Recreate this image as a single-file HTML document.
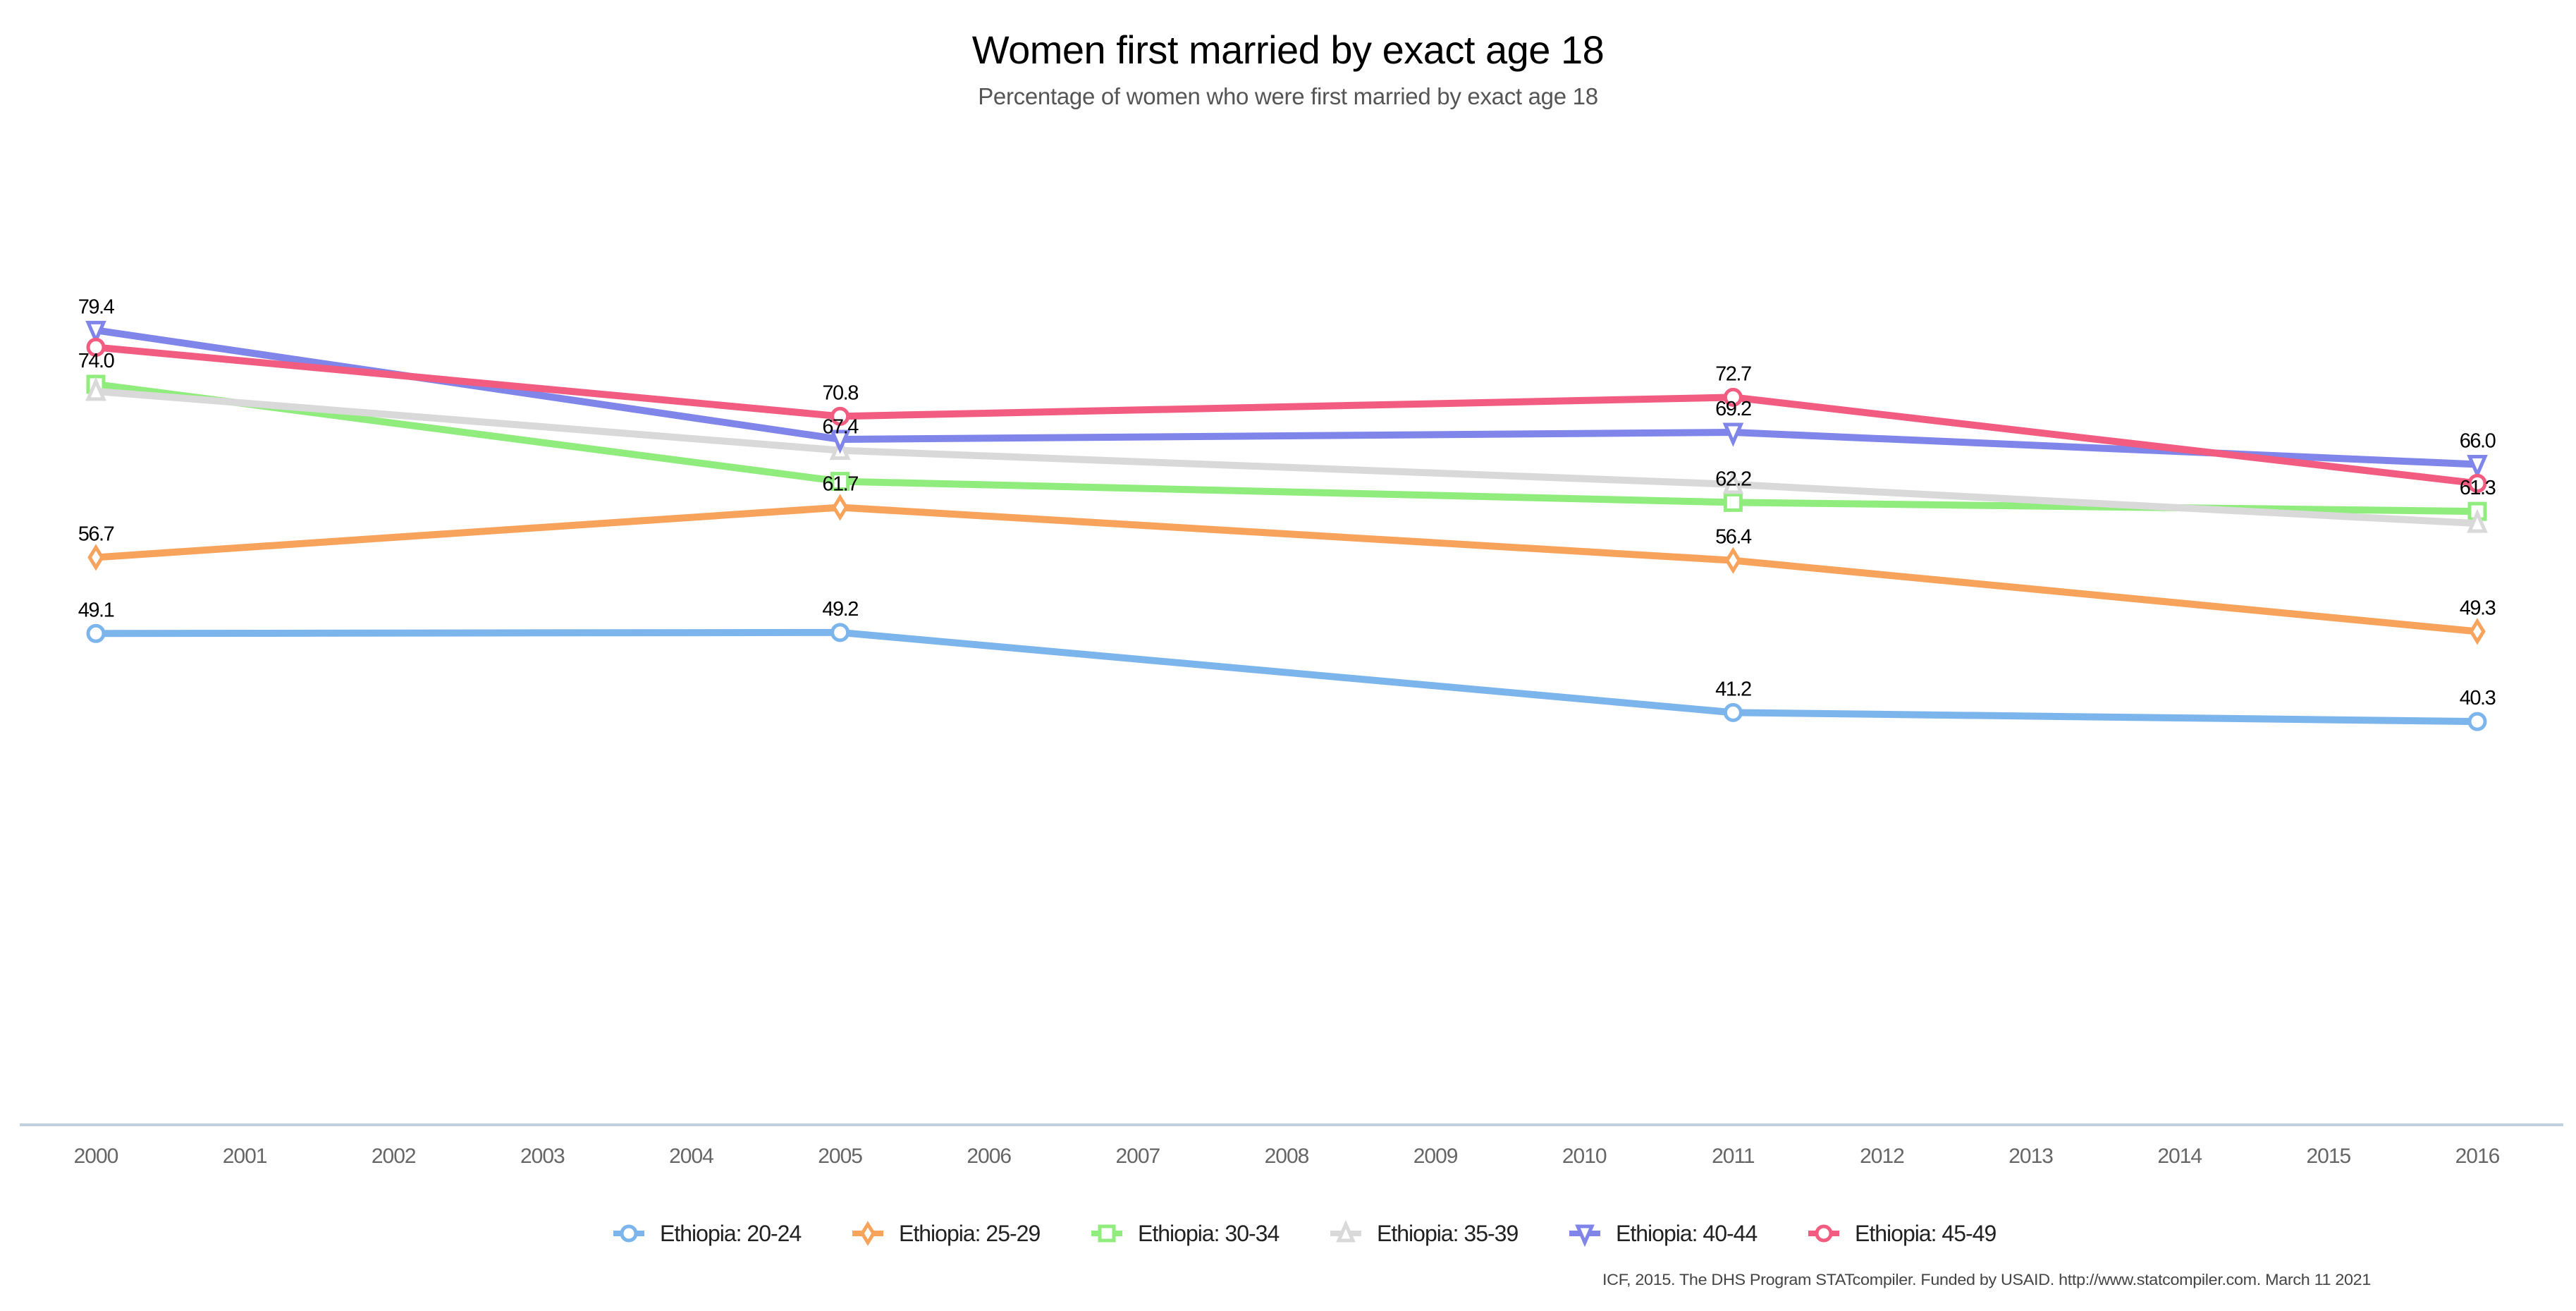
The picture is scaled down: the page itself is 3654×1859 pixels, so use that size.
<!DOCTYPE html>
<html><head><meta charset="utf-8">
<style>
html,body{margin:0;padding:0;background:#fff;}
svg{display:block;font-family:"Liberation Sans",sans-serif;}
</style></head>
<body>
<svg id="chart" width="3654" height="1859" viewBox="0 0 3654 1859" xmlns="http://www.w3.org/2000/svg">
<text x="1827" y="90" text-anchor="middle" font-size="56" fill="#000" letter-spacing="-0.5">Women first married by exact age 18</text>
<text x="1827" y="148" text-anchor="middle" font-size="33" fill="#555" letter-spacing="-0.3">Percentage of women who were first married by exact age 18</text>
<line x1="28" y1="1595" x2="3636" y2="1595" stroke="#c0d0e0" stroke-width="4"/>
<g id="ticks"></g>
<g id="series"></g>
<g id="labels"></g>
<g id="legend"></g>
<text x="3363" y="1822" text-anchor="end" font-size="22" fill="#444" letter-spacing="-0.3" textLength="1090" lengthAdjust="spacingAndGlyphs">ICF, 2015. The DHS Program STATcompiler. Funded by USAID. http://www.statcompiler.com. March 11 2021</text>
</svg>
<script>
const years = [2000,2005,2011,2016];
const tickYears = [2000,2001,2002,2003,2004,2005,2006,2007,2008,2009,2010,2011,2012,2013,2014,2015,2016];
const seriesNames = ["Ethiopia: 20-24","Ethiopia: 25-29","Ethiopia: 30-34","Ethiopia: 35-39","Ethiopia: 40-44","Ethiopia: 45-49"];
const v2024 = [49.1,49.2,41.2,40.3];
const v2529 = [56.7,61.7,56.4,49.3];
const v3034 = [74.0,64.3,62.2,61.3];
const v3539 = [73.3,67.4,64.0,60.1];
const v4044 = [79.4,68.5,69.2,66.0];
const v4549 = [77.7,70.8,72.7,64.1];
const values = [v2024,v2529,v3034,v3539,v4044,v4549];
// which printed value labels are visible
const shownLabels = [[1,1,1,1],[1,1,1,1],[1,0,1,1],[0,1,0,0],[1,0,1,1],[0,1,1,0]];
const colors = ["#7cb5ec","#f7a35c","#90ed7d","#d9d9d9","#8085e9","#f15c80"];
const markers = ["circle","diamond","square","triangle","triangle-down","circle"];

const NS="http://www.w3.org/2000/svg";
function xS(y){return 136+(y-2000)*(3514-136)/16;}
function yS(v){return 1595-v*14.19;}
function mk(tag,attrs,parent){const e=document.createElementNS(NS,tag);for(const k in attrs)e.setAttribute(k,attrs[k]);parent.appendChild(e);return e;}

const ticks=document.getElementById('ticks');
tickYears.forEach(t=>{
  const e=mk('text',{x:xS(t),y:1649,'text-anchor':'middle','font-size':30,fill:'#666','letter-spacing':'-1'},ticks);
  
  
  e.textContent=t;
});

function marker(type,cx,cy,color,parent,s){
  let e;
  if(type==='circle') e=mk('circle',{cx:cx,cy:cy,r:s},parent);
  else if(type==='square') e=mk('rect',{x:cx-s,y:cy-s,width:2*s,height:2*s},parent);
  else if(type==='diamond') e=mk('path',{d:`M${cx},${cy-s*1.3}L${cx+s*0.8},${cy}L${cx},${cy+s*1.3}L${cx-s*0.8},${cy}Z`},parent);
  else if(type==='triangle') e=mk('path',{d:`M${cx},${cy-s*1.3}L${cx+s},${cy+s}L${cx-s},${cy+s}Z`},parent);
  else e=mk('path',{d:`M${cx},${cy+s*1.3}L${cx+s},${cy-s}L${cx-s},${cy-s}Z`},parent);
  e.setAttribute('fill','#fff');e.setAttribute('stroke',color);e.setAttribute('stroke-width',5);
  return e;
}

const sg=document.getElementById('series');
const lg=document.getElementById('labels');
values.forEach((vals,i)=>{
  const pts=vals.map((v,j)=>xS(years[j])+','+yS(v)).join(' ');
  const pl=mk('polyline',{points:pts,fill:'none',stroke:colors[i],'stroke-width':10,'stroke-linejoin':'round'},sg);
  
  
  vals.forEach((v,j)=>{
    const m=marker(markers[i],xS(years[j]),yS(v),colors[i],sg,11);
    
    
    if(shownLabels[i][j]){
      const t=mk('text',{x:xS(years[j]),y:yS(v)-24,'text-anchor':'middle','font-size':29,fill:'#000','letter-spacing':'-1.5'},lg);
      
      
      t.textContent=v.toFixed(1);
    }
  });
});

const leg=document.getElementById('legend');
seriesNames.forEach((n,i)=>{
  const g=mk('g',{},leg);
  
  
  const x0=870+i*339, y0=1749;
  mk('line',{x1:x0,y1:y0,x2:x0+44,y2:y0,stroke:colors[i],'stroke-width':8},g);
  marker(markers[i],x0+22,y0,colors[i],g,10);
  const t=mk('text',{x:x0+66,y:y0+11,'font-size':32,fill:'#222','letter-spacing':'-1'},g);
  
  
  t.textContent=n;
});
</script>
</body></html>
